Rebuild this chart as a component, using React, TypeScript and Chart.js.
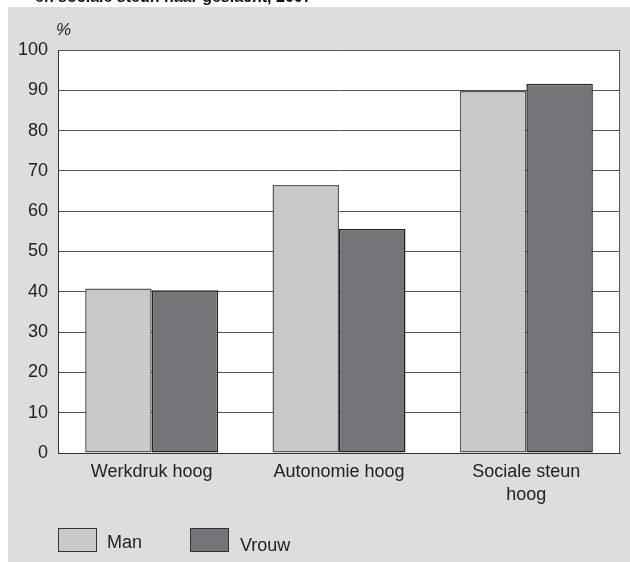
import React, { useEffect, useRef } from "react";
import { Chart, registerables } from "chart.js";

Chart.register(...registerables);

const categories: (string | string[])[] = ["Werkdruk hoog", "Autonomie hoog", ["Sociale steun", "hoog"]];
const manValues = [40.8, 66.5, 89.8];
const vrouwValues = [40.4, 55.6, 91.6];
const seriesNames = ["Man", "Vrouw"];
const titleText = "en sociale steun naar geslacht, 2007";
const unitLabel = "%";

const FONT = "'Liberation Sans', Arial, Helvetica, sans-serif";
const BG_GRAY = "#dcdddf";
const MAN_COLOR = "#c8c9cb";
const VROUW_COLOR = "#747578";

const decorPlugin = {
  id: "decor",
  beforeDraw(chart: any) {
    const { ctx, chartArea, width, height } = chart;
    ctx.save();
    ctx.fillStyle = "#ffffff";
    ctx.fillRect(0, 0, width, height);
    ctx.fillStyle = BG_GRAY;
    ctx.fillRect(8, 7, width - 8, height - 7);
    // partially visible title
    ctx.fillStyle = "#111";
    ctx.font = `bold 16px ${FONT}`;
    ctx.textBaseline = "alphabetic";
    ctx.textAlign = "left";
    ctx.fillText(titleText, 35, 2);
    // white plot area
    ctx.fillStyle = "#ffffff";
    ctx.fillRect(chartArea.left, chartArea.top, chartArea.right - chartArea.left, chartArea.bottom - chartArea.top);
    ctx.restore();
  },
  afterDraw(chart: any) {
    const { ctx, chartArea } = chart;
    ctx.save();
    // right border
    ctx.strokeStyle = "#555";
    ctx.lineWidth = 1;
    ctx.beginPath();
    ctx.moveTo(chartArea.right - 0.5, chartArea.top);
    ctx.lineTo(chartArea.right - 0.5, chartArea.bottom);
    ctx.stroke();
    // unit label
    ctx.fillStyle = "#222";
    ctx.font = `italic 17px ${FONT}`;
    ctx.textAlign = "left";
    ctx.textBaseline = "middle";
    ctx.fillText(unitLabel, chartArea.left - 2, 30);
    // legend
    const items = chart.data.datasets.map((ds: any) => ({
      label: ds.label,
      fill: ds.backgroundColor,
    }));
    const boxX = [58.5, 190.5];
    const textX = [107, 240];
    const textY = [543, 546];
    items.forEach((it: any, i: number) => {
      ctx.fillStyle = it.fill;
      ctx.fillRect(boxX[i], 528.5, 38, 23);
      ctx.strokeStyle = "#333";
      ctx.lineWidth = 1;
      ctx.strokeRect(boxX[i], 528.5, 38, 23);
      ctx.fillStyle = "#222";
      ctx.font = `18px ${FONT}`;
      ctx.textBaseline = "middle";
      ctx.fillText(it.label, textX[i], textY[i]);
    });
    ctx.restore();
  },
};

export default function App() {
  const canvasRef = useRef<HTMLCanvasElement | null>(null);

  useEffect(() => {
    if (!canvasRef.current) return;
    const chart = new Chart(canvasRef.current, {
      type: "bar",
      data: {
        labels: categories as any,
        datasets: [
          {
            label: seriesNames[0],
            data: manValues,
            backgroundColor: MAN_COLOR,
            borderColor: "#5a5a5a",
            borderWidth: 1.5,
            borderSkipped: false,
          },
          {
            label: seriesNames[1],
            data: vrouwValues,
            backgroundColor: VROUW_COLOR,
            borderColor: "#222",
            borderWidth: 1.5,
            borderSkipped: false,
          },
        ],
      },
      options: {
        responsive: false,
        animation: false,
        devicePixelRatio: 1,
        layout: { padding: { top: 50, right: 10, left: 0, bottom: 0 } },
        datasets: { bar: { categoryPercentage: 0.71, barPercentage: 1.0 } },
        plugins: {
          legend: { display: false },
          tooltip: { enabled: false },
          title: { display: false },
        },
        scales: {
          x: {
            grid: { display: false, drawTicks: false },
            border: { display: true, color: "#333", width: 1 },
            ticks: {
              color: "#222",
              font: { family: FONT, size: 18, lineHeight: 1.25 },
              padding: 8,
              maxRotation: 0,
              autoSkip: false,
            },
            afterFit(scale: any) {
              scale.height = 109;
            },
          },
          y: {
            min: 0,
            max: 100,
            grid: { color: "#555", lineWidth: 1, drawTicks: false },
            border: { display: true, color: "#333", width: 1 },
            ticks: {
              stepSize: 10,
              color: "#222",
              font: { family: FONT, size: 18 },
              padding: 10,
            },
            afterFit(scale: any) {
              scale.width = 58;
            },
          },
        },
      },
      plugins: [decorPlugin],
    });
    return () => chart.destroy();
  }, []);

  return (
    <div style={{ position: "absolute", left: 0, top: 0, width: 630, height: 562 }}>
      <canvas ref={canvasRef} width={630} height={562} style={{ display: "block", width: 630, height: 562 }} />
    </div>
  );
}
